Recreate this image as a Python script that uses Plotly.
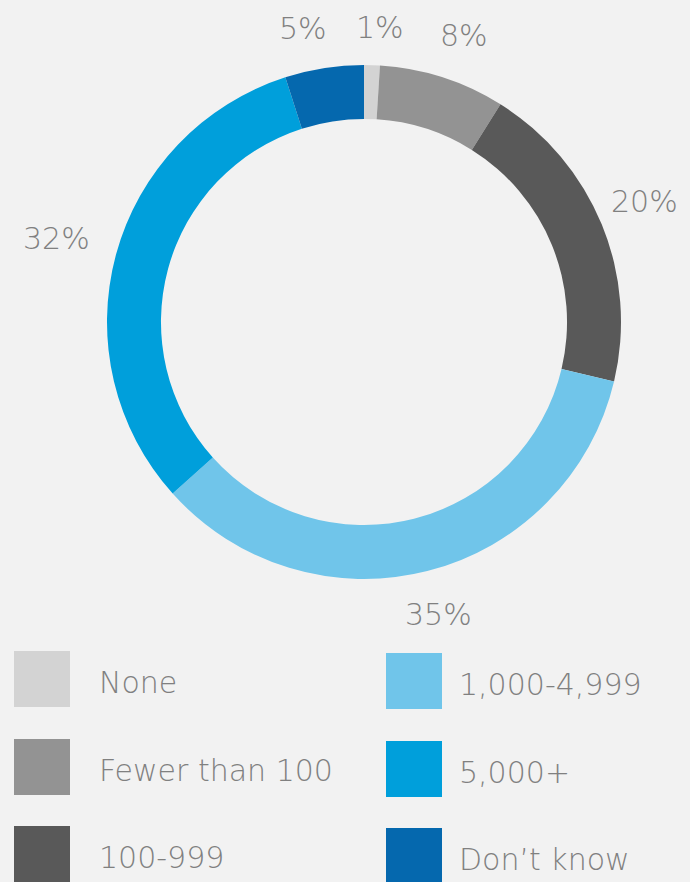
import math
import plotly.graph_objects as go

categories = ["None", "Fewer than 100", "100-999", "1,000-4,999", "5,000+", "Don\u2019t know"]
values = [1, 8, 20, 35, 32, 5]
text_labels = ["1%", "8%", "20%", "35%", "32%", "5%"]
colors = ["#d3d3d3", "#939393", "#595959", "#70c5ea", "#009fdb", "#0568ae"]

W, H = 690, 882
BG = "#f2f2f2"
FONT = "DejaVu Sans ExtraLight, DejaVu Sans"
TXT = "#808080"
FS = 30

cx, cy, R = 364, 322, 257

fig = go.Figure()
fig.add_trace(go.Pie(
    labels=categories,
    values=values,
    textinfo="none",
    hole=0.79,
    sort=False,
    direction="clockwise",
    rotation=0,
    marker=dict(colors=colors, line=dict(width=0)),
    domain=dict(x=[(cx - R) / W, (cx + R) / W], y=[1 - (cy + R) / H, 1 - (cy - R) / H]),
    showlegend=False,
    hoverinfo="label+percent",
))

annotations = []
shapes = []

# outside percentage labels placed at each slice's mid-angle
total = sum(values)
cum = 0
gap = 26
pos = []
for v, t in zip(values, text_labels):
    mid = (cum + v / 2) / total * 2 * math.pi
    cum += v
    s, c = math.sin(mid), math.cos(mid)
    w = len(t) * 0.74 * FS
    h = 0.75 * FS
    ext = abs(s) * w / 2 + abs(c) * h / 2
    r = R + gap + ext
    px = cx + r * s
    py = cy - r * c
    px = max(w / 2 + 12, min(W - w / 2 - 12, px))
    pos.append([px, py, w, h])

# spread neighbouring labels that sit too close horizontally
n = len(pos)
for i in range(n):
    a, b = pos[i - 1], pos[i]
    if abs(a[1] - b[1]) < a[3] + 10:
        left, right = (a, b) if a[0] < b[0] else (b, a)
        need = left[2] / 2 + right[2] / 2 + 40
        d = right[0] - left[0]
        if d < need:
            shift = (need - d) / 2
            left[0] -= shift
            right[0] += shift

for (px, py, w, h), t in zip(pos, text_labels):
    annotations.append(dict(xref="paper", yref="paper", x=px / W, y=1 - py / H,
                            text=t, showarrow=False, xanchor="center", yanchor="middle",
                            font=dict(family=FONT, size=FS, color=TXT, weight=200)))

# custom two-column legend
col_x = [14, 386]
text_x = [97, 457]
row_y = [651, 739, 826]
sq = 56
for i, (cat, col) in enumerate(zip(categories, colors)):
    ci = i // 3
    ri = i % 3
    x0 = col_x[ci]
    y0 = row_y[ri] + (2 if ci == 1 else 0)
    shapes.append(dict(type="rect", xref="paper", yref="paper",
                       x0=x0 / W, x1=(x0 + sq) / W,
                       y0=1 - (y0 + sq) / H, y1=1 - y0 / H,
                       fillcolor=col, line=dict(width=0)))
    annotations.append(dict(xref="paper", yref="paper", x=text_x[ci] / W,
                            y=1 - (y0 + sq / 2 + 3) / H, text=cat, showarrow=False,
                            xanchor="left", yanchor="middle",
                            font=dict(family=FONT, size=FS, color=TXT, weight=200)))

fig.update_layout(
    width=W, height=H,
    margin=dict(l=0, r=0, t=0, b=0),
    paper_bgcolor=BG, plot_bgcolor=BG,
    shapes=shapes, annotations=annotations,
)

fig.write_html("out.html")
